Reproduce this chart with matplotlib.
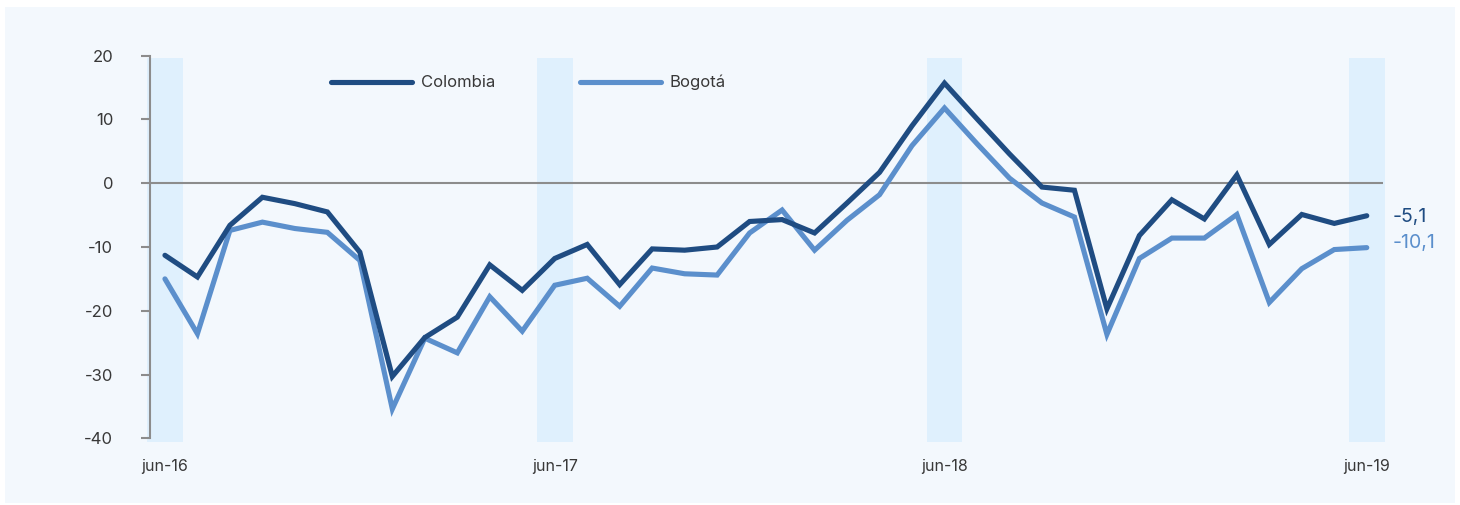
import matplotlib
matplotlib.use("Agg")
import matplotlib.pyplot as plt
from matplotlib.patches import Rectangle

plt.rcParams['font.family'] = ['Inter', 'DejaVu Sans']

colombia = [-11.3, -14.7, -6.6, -2.2, -3.2, -4.5, -10.8, -30.3, -24.2, -21.0,
            -12.8, -16.8, -11.8, -9.6, -15.9, -10.3, -10.5, -10.0, -6.0, -5.7,
            -7.8, -3.1, 1.7, 9.0, 15.7, 10.1, 4.6, -0.6, -1.1, -19.7,
            -8.2, -2.6, -5.6, 1.3, -9.6, -4.9, -6.3, -5.1]
bogota = [-15.0, -23.6, -7.4, -6.1, -7.1, -7.7, -12.1, -35.4, -24.3, -26.6,
          -17.8, -23.2, -16.0, -14.9, -19.3, -13.3, -14.2, -14.4, -7.8, -4.2,
          -10.5, -5.8, -1.8, 5.9, 11.8, 6.2, 0.8, -3.1, -5.3, -23.7,
          -11.8, -8.6, -8.6, -4.9, -18.7, -13.4, -10.4, -10.1]
tick_idx = [0, 12, 24, 37]
tick_labels = ['jun-16', 'jun-17', 'jun-18', 'jun-19']
yticks = [20, 10, 0, -10, -20, -30, -40]
end_labels = ['-5,1', '-10,1']

c_col = '#1F4C82'
c_bog = '#5B8FCC'
band_c = '#DFF0FD'
panel_c = '#F3F8FD'
txt_c = '#383838'
axis_c = '#8C8C8C'

W, H = 1460, 505
fig = plt.figure(figsize=(W / 100, H / 100), dpi=100)
fig.patch.set_facecolor('white')
fig.patches.append(Rectangle((5 / W, 2 / H), 1450 / W, 496 / H, transform=fig.transFigure,
                             facecolor=panel_c, edgecolor='none', zorder=-10))

ax = fig.add_axes([150 / W, (H - 438.3) / H, 1233 / W, 382.6 / H])
ax.set_facecolor('none')

x = list(range(len(colombia)))
for ti in tick_idx:
    ax.axvspan(ti - 0.55, ti + 0.55, ymin=-0.009, ymax=0.994, color=band_c,
               lw=0, zorder=0, clip_on=False)

ax.axhline(0, color=axis_c, lw=1.5, zorder=1)
ax.plot(x, colombia, color=c_col, lw=3.7, solid_joinstyle='miter',
        solid_capstyle='round', label='Colombia', zorder=3)
ax.plot(x, bogota, color=c_bog, lw=3.7, solid_joinstyle='miter',
        solid_capstyle='round', label='Bogotá', zorder=2)

ax.annotate(end_labels[0], xy=(x[-1], colombia[-1]), xytext=(18.5, -1),
            textcoords='offset points', ha='left', va='center',
            fontsize=14, color=c_col)
ax.annotate(end_labels[1], xy=(x[-1], bogota[-1]), xytext=(18.5, 3),
            textcoords='offset points', ha='left', va='center',
            fontsize=14, color=c_bog)

ax.set_xlim(-0.46, 37.5)
ax.set_ylim(-40, 20)
ax.set_yticks(yticks)
ax.set_yticklabels([str(v) for v in yticks])
ax.set_xticks(tick_idx)
ax.set_xticklabels(tick_labels)

for s in ['top', 'right', 'bottom']:
    ax.spines[s].set_visible(False)
ax.spines['left'].set_color(axis_c)
ax.spines['left'].set_linewidth(1.5)
ax.tick_params(axis='y', direction='out', length=6.5, width=1.5, color=axis_c,
               pad=20, labelsize=12, labelcolor=txt_c)
ax.tick_params(axis='x', length=0, pad=15, labelsize=11.5, labelcolor=txt_c)

leg = ax.legend(loc='center left', bbox_to_anchor=(331 / W, (H - 82.7) / H),
                bbox_transform=fig.transFigure, ncol=2, frameon=False,
                fontsize=12, handlelength=4.86, handletextpad=0.52,
                columnspacing=5.1, borderpad=0, borderaxespad=0)
for t in leg.get_texts():
    t.set_color(txt_c)

fig.savefig('out.png', dpi=100, facecolor='white')
